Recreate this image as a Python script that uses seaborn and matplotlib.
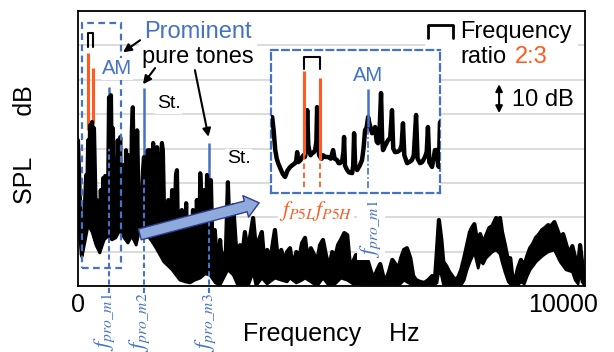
import numpy as np
import pandas as pd
import matplotlib
matplotlib.use('Agg')
import matplotlib.pyplot as plt
import matplotlib.patches as mpatches
import seaborn as sns

spec_hz = [0, 40, 80, 120, 170, 190, 210, 230, 250, 270,
           290, 310, 330, 350, 370, 390, 410, 430, 450, 470,
           500, 520, 540, 560, 580, 600, 620, 640, 660, 680,
           700, 720, 740, 760, 780, 800, 820, 850, 870, 890,
           910, 930, 950, 970, 990, 1010, 1030, 1050, 1070, 1090,
           1110, 1130, 1150, 1180, 1200, 1220, 1240, 1260, 1280, 1300,
           1320, 1340, 1360, 1380, 1400, 1420, 1440, 1460, 1480, 1510,
           1530, 1550, 1570, 1590, 1610, 1630, 1650, 1670, 1690, 1710,
           1730, 1750, 1770, 1790, 1810, 1840, 1860, 1900, 1940, 1980,
           2020, 2040, 2060, 2100, 2140, 2190, 2230, 2270, 2310, 2350,
           2370, 2410, 2450, 2500, 2520, 2560, 2600, 2640, 2660, 2700,
           2740, 2780, 2820, 2890, 2930, 2970, 3050, 3090, 3130, 3200,
           3260, 3300, 3340, 3400, 3440, 3510, 3550, 3610, 3670, 3730,
           3790, 3840, 3900, 3960, 4020, 4060, 4120, 4190, 4250, 4310,
           4370, 4430, 4500, 4560, 4620, 4680, 4740, 4800, 4870, 4930,
           4990, 5050, 5110, 5180, 5240, 5300, 5360, 5420, 5490, 5550,
           5610, 5670, 5730, 5790, 5860, 5920, 5980, 6040, 6100, 6170,
           6230, 6290, 6350, 6410, 6480, 6540, 6600, 6660, 6720, 6780,
           6850, 6910, 6970, 7050, 7140, 7220, 7300, 7360, 7400, 7440,
           7490, 7530, 7590, 7650, 7710, 7770, 7840, 7900, 7960, 8020,
           8080, 8120, 8170, 8210, 8250, 8290, 8350, 8410, 8480, 8540,
           8580, 8620, 8660, 8700, 8740, 8800, 8870, 8910, 8950, 9010,
           9070, 9130, 9200, 9260, 9320, 9380, 9440, 9510, 9570, 9630,
           9690, 9750, 9820, 9880, 9940, 10000, 10060, 10120, 10190, 10250,
           10310, 10350, 10390, 10450]
spec_db = [42.4, 25.0, 9.0, 16.3, 32.3, 25.0, 42.4, 33.7, 46.8, 39.5,
           47.7, 43.9, 45.9, 32.3, 18.6, 25.0, 13.0, 20.6, 10.5, 27.9,
           16.3, 31.4, 22.1, 32.0, 20.6, 29.4, 25.0, 54.9, 36.6, 55.5,
           30.8, 45.9, 25.0, 15.5, 33.7, 22.1, 42.4, 27.9, 43.3, 17.5,
           25.0, 16.0, 35.2, 15.0, 39.5, 25.0, 38.1, 14.0, 30.8, 19.2,
           45.3, 52.0, 33.7, 42.4, 25.0, 45.3, 30.8, 17.5, 27.9, 18.0,
           25.0, 33.7, 37.5, 25.0, 16.3, 30.8, 39.5, 25.0, 39.5, 19.2,
           30.8, 41.6, 25.0, 16.3, 32.3, 40.4, 27.9, 10.5, 25.0, 36.6,
           41.6, 39.5, 25.0, 10.5, 7.5, 16.3, 25.0, 10.5, 27.9, 13.4,
           32.3, 33.7, 16.3, 3.2, 22.1, 4.7, 24.1, 1.5, 19.2, 7.6,
           22.1, 3.2, 25.0, 10.5, 32.8, 19.2, 27.9, 10.5, 32.3, 20.6,
           30.8, 5.5, 16.3, 1.2, 13.4, 6.0, 10.5, 30.2, 13.4, 23.5,
           10.5, 7.6, 11.9, 10.5, 15.7, 9.0, 14.5, 19.8, 10.5, 13.4,
           15.7, 7.0, 10.5, 7.0, 12.8, 16.3, 7.6, 10.5, 7.0, 9.9,
           11.0, 5.2, 9.9, 8.1, 12.5, 14.0, 7.0, 11.0, 9.0, 7.0,
           11.9, 13.4, 9.0, 5.2, 9.9, 8.1, 11.9, 13.4, 15.4, 14.8,
           5.2, 7.0, 9.0, 8.1, 5.8, 8.1, 7.0, 4.1, 2.3, 4.7,
           6.4, 2.9, 1.7, 4.1, 7.6, 6.4, 4.7, 8.1, 10.5, 11.0,
           8.1, 2.9, 1.7, 1.2, 0.9, 1.7, 2.9, 2.3, 10.5, 19.2,
           13.4, 7.0, 5.8, 4.1, 2.9, 1.7, 2.6, 4.7, 8.1, 11.9,
           15.7, 16.9, 18.0, 14.5, 11.6, 15.1, 12.2, 14.5, 16.9, 17.4,
           18.6, 19.8, 19.2, 19.8, 15.7, 11.9, 7.0, 8.1, 2.9, 1.7,
           5.2, 7.6, 5.8, 8.7, 11.0, 12.2, 14.0, 15.1, 16.3, 16.9,
           17.7, 17.4, 18.6, 16.3, 14.0, 15.1, 12.2, 9.3, 11.6, 8.1,
           5.8, 11.9, 7.0, 1.7]

# lower edge of the dense spectrum (Hz, dB)
floor_hz = [0, 40, 80, 120, 210, 290, 370, 450, 540, 620,
            700, 780, 870, 950, 1030, 1110, 1200, 1280, 1360, 1440,
            1530, 1610, 1690, 1770, 1860, 1940, 2020, 2100, 2210, 2310,
            2410, 2520, 2620, 2720, 2830, 2930, 3090, 3200, 3300, 3400,
            3510, 3610, 3670, 3790, 3900, 4060, 4190, 4310, 4370, 4500,
            4620, 4680, 4800, 4930, 5050, 5180, 5300, 5420, 5550, 5670,
            5790, 5920, 6100, 6290, 6480, 6600, 6720, 6850, 6970, 7300,
            7400, 7440, 7490, 7530, 7710, 7900, 7960, 8020, 8080, 8170,
            8250, 8290, 8350, 8410, 8540, 8620, 8700, 8740, 8800, 8870,
            8950, 9070, 9130, 9200, 9260, 9320, 9440, 9570, 9690, 9820,
            9940, 10060, 10190, 10250, 10310, 10350, 10390, 10450]
floor_db = [25.0, 13.4, 8.4, 11.0, 17.7, 15.7, 11.9, 9.6, 13.4, 14.5,
            13.4, 14.0, 16.3, 14.0, 12.5, 14.5, 11.9, 16.9, 15.7, 14.5,
            12.8, 11.0, 9.0, 7.0, 5.8, 4.7, 3.2, 1.7, 1.2, 0.9,
            1.7, 2.3, 3.5, 3.2, 0.9, 0.3, 4.7, 3.2, 0.0, 0.0,
            0.0, 4.1, 0.0, 2.3, 0.6, 2.3, 1.7, 1.2, 2.3, 0.9,
            1.7, 2.3, 1.2, 0.0, 2.3, 0.0, 0.6, 2.3, 1.7, 0.6,
            0.6, 0.3, 0.0, 0.0, 0.6, 0.0, 1.7, 0.6, 0.0, 0.0,
            0.9, 4.7, 3.2, 0.6, 0.0, 0.3, 1.7, 4.7, 7.0, 9.9,
            5.2, 7.6, 6.4, 8.1, 9.9, 10.5, 9.3, 7.0, 4.1, 1.2,
            0.0, 0.3, 1.2, 0.6, 2.9, 4.7, 7.0, 8.7, 9.9, 10.5,
            7.0, 4.7, 4.1, 1.7, 0.6, 4.7, 1.2, 0.0]

# low frequency part shown enlarged in the inset (Hz, relative dB)
zoom_hz = [0, 10, 20, 30, 39, 55, 70, 85, 100, 118,
           135, 151, 158, 164, 171, 185, 197, 205, 215, 222,
           230, 237, 243, 252, 262, 272, 282, 290, 295, 302,
           308, 315, 325, 334, 350, 367, 385, 400, 410, 426,
           436, 446, 460, 468, 472, 478, 492, 505, 525, 532,
           538, 545, 558, 575, 590, 600, 610, 620, 630, 640,
           656, 666, 676, 686, 695, 705, 715, 722, 728, 745,
           761, 775, 787, 795, 807, 823, 840, 850, 859, 868,
           886, 900, 918, 930, 945, 955, 971, 985, 1004, 1015,
           1023, 1032, 1050, 1060, 1069, 1082, 1090, 1095, 1102]
zoom_db = [22.1, 18, 12.5, 10, 8.7, 7, 5.5, 4.7, 6.5, 7.6,
           8.2, 8.7, 9.5, 11.9, 9.0, 9.5, 10.5, 11, 10.5, 12,
           24.1, 14, 12.5, 11, 11.6, 11.8, 12.5, 15, 25.0, 14,
           11, 10.5, 10, 11.0, 10.5, 10.5, 10, 12.5, 10, 9.6,
           8.7, 8.7, 9.5, 12, 16.3, 8, 6.7, 6, 5.8, 8,
           17.4, 8, 6.7, 8, 9.6, 13, 18.3, 19, 22.1, 20,
           17.4, 18, 19.2, 15, 14.5, 18, 29.1, 16, 12.5, 14,
           15.4, 16, 24.1, 13, 11.9, 12, 12.5, 14, 20.3, 11,
           8.7, 9, 9.6, 11, 22.7, 10, 8.7, 9, 10.5, 12,
           19.2, 9, 7.6, 10, 12.5, 12.5, 8, 7.6, 20.6]

# tones
f_p5 = [210, 315]              # f_P5L, f_P5H (ratio 2:3)
p5_top = [67.7, 63.4]
p5_bottom = [45.3, 47.4]
f_pro = [630, 1360, 2710]      # f_pro_m1, m2, m3
pro_top = [57.8, 57.6, 41.6]
pro_solid_end = [40.0, 31.7, 22.0]
pro_labels = [r'$f_{pro\_m1}$', r'$f_{pro\_m2}$', r'$f_{pro\_m3}$']

# inset tone markers
zoom_p5_top = [35.5, 33.4]
zoom_p5_end = [11.0, 9.6]
zoom_am_top = 30.2
zoom_am_end = 19.2

grid_db = [0, 10, 20, 30, 40, 50, 60, 70, 80]

BLUE = '#4472C4'
ORANGE = '#FF5A1F'

sns.set_theme(style='white')
plt.rcParams['font.family'] = ['Liberation Sans', 'DejaVu Sans']
plt.rcParams['mathtext.fontset'] = 'stix'

fig = plt.figure(figsize=(6.14, 3.52), dpi=100)
ax = fig.add_axes([0.127, 0.1875, 0.8257, 0.78125])

ax.set_xlim(0, 10450)
ax.set_ylim(0, 80)
ax.set_yticks(grid_db)
ax.set_yticklabels([])
ax.set_xticks([0, 10000])
ax.set_xticklabels(['0', '10000'])
ax.tick_params(length=0, labelsize=18, pad=5, colors='black')
ax.set_axisbelow(True)
ax.grid(axis='y', color='#D9D9D9', lw=1.3)
for s in ax.spines.values():
    s.set_color('black')
    s.set_linewidth(1.3)

ax.set_xlabel('Frequency    Hz', fontsize=18, color='black')
ax.set_ylabel('SPL      dB', fontsize=18, color='black')
ax.xaxis.set_label_coords(0.5, -0.13)
ax.yaxis.set_label_coords(-0.08, 0.513)

# white area behind the "Frequency ratio" note
ax.add_patch(mpatches.Rectangle((7150, 66.5), 3160, 11, fc='white', ec='none', zorder=1))

# tone markers under the spectrum
for f, t, b in zip(f_p5, p5_top, p5_bottom):
    ax.plot([f, f], [b, t], color=ORANGE, lw=2.2, zorder=2, solid_capstyle='butt')
for f, t, b in zip(f_pro, pro_top, pro_solid_end):
    ax.plot([f, f], [b, t], color=BLUE, lw=1.8, zorder=2, solid_capstyle='butt')

# dense spectrum: filled between its upper and lower edge
ax.fill(spec_hz + floor_hz[::-1], spec_db + floor_db[::-1], color='black', lw=0, zorder=3)
sns.lineplot(x=spec_hz, y=spec_db, ax=ax, color='black', lw=3.0,
             estimator=None, sort=False, zorder=3)
sns.lineplot(x=floor_hz, y=floor_db, ax=ax, color='black', lw=2.0,
             estimator=None, sort=False, zorder=3)

# dashed guide lines down to the labels
for f, b, lab in zip(f_pro, pro_solid_end, pro_labels):
    ax.plot([f, f], [-2.0, b], color=BLUE, lw=1.5, ls=(0, (2.5, 1.5)),
            zorder=4, clip_on=False)
    ax.annotate(lab, xy=(f, -2.0), xytext=(-3, 0), textcoords='offset points',
                rotation=90, ha='center', va='top', color=BLUE, fontsize=16,
                annotation_clip=False)

# dashed box around the low frequency tones
ax.add_patch(mpatches.Rectangle((80, 5.2), 810, 71.3, fill=False, ec=BLUE, lw=1.6,
                                ls=(0, (3, 2)), zorder=5))

# frequency ratio bracket
ax.plot([210, 210, 315, 315], [69.5, 73.5, 73.5, 69.5], color='black', lw=1.5, zorder=5)

tb = dict(facecolor='white', edgecolor='none', pad=1)
ax.text(804, 61.6, 'AM', color=BLUE, fontsize=14.5, ha='center', va='baseline',
        bbox=tb, zorder=6)
ax.text(2474, 72.1, 'Prominent', color=BLUE, fontsize=17, ha='center', va='baseline',
        bbox=dict(facecolor='white', edgecolor='none', pad=4), zorder=6)
ax.text(2474, 64.8, 'pure tones', color='black', fontsize=17, ha='center', va='baseline',
        bbox=tb, zorder=6)
ax.text(1866, 51.7, 'St.', color='black', fontsize=14, ha='center', va='baseline',
        bbox=tb, zorder=6)
ax.text(3310, 35.8, 'St.', color='black', fontsize=14, ha='center', va='baseline',
        bbox=tb, zorder=6)

arrow_kw = dict(arrowstyle='-|>', color='black', lw=1.5, mutation_scale=12,
                shrinkA=0, shrinkB=0)
ax.annotate('', xy=(930, 68.0), xytext=(1280, 71.5), arrowprops=arrow_kw, zorder=7)
ax.annotate('', xy=(1340, 58.7), xytext=(1590, 63.4), arrowprops=arrow_kw, zorder=7)
ax.annotate('', xy=(2690, 43.4), xytext=(2410, 62.8), arrowprops=arrow_kw, zorder=7)

# legend-like notes on the right
ax.plot([7220, 7220, 7730, 7730], [72.1, 75.9, 75.9, 72.1], color='black', lw=2, zorder=6)
ax.text(7877, 72.1, 'Frequency', color='black', fontsize=17, va='baseline', zorder=6)
ax.text(7877, 64.8, 'ratio', color='black', fontsize=17, va='baseline', zorder=6)
ax.text(9000, 64.8, '2:3', color=ORANGE, fontsize=17, va='baseline', zorder=6)
ax.annotate('', xy=(8680, 50.3), xytext=(8680, 58.7),
            arrowprops=dict(arrowstyle='<|-|>', color='black', lw=1.5, mutation_scale=10,
                            shrinkA=0, shrinkB=0), zorder=6)
ax.text(8949, 52.3, '10 dB', color='black', fontsize=17, va='baseline', zorder=6)

# labels for the inset
ax.text(4908, 21.8, r'$f_{P5L}f_{P5H}$', color=ORANGE, fontsize=16, ha='center',
        va='center', bbox=tb, zorder=6)
ax.text(6040, 25.0, r'$f_{pro\_m1}$', color=BLUE, fontsize=16, rotation=90,
        ha='center', va='top', bbox=tb, zorder=6)

# big arrow pointing to the inset
ax.add_patch(mpatches.FancyArrowPatch(
    (1220, 14.8), (3790, 24.4),
    arrowstyle=mpatches.ArrowStyle.Simple(head_length=10, head_width=16, tail_width=8),
    mutation_scale=1, fc='#8FAADC', ec='#2F3D8C', lw=1, zorder=7))

# inset
ins = ax.inset_axes([0.381, 0.338, 0.333, 0.520])
ins.set_facecolor('white')
ins.set_xlim(-7, 1102)
ins.set_ylim(0, 41.6)
ins.set_xticks([])
ins.set_yticks([])
for s in ins.spines.values():
    s.set_edgecolor(BLUE)
    s.set_linewidth(1.6)
    s.set_linestyle((0, (3, 2)))

sns.lineplot(x=zoom_hz, y=zoom_db, ax=ins, color='black', lw=3.2,
             estimator=None, sort=False, zorder=3)
for f, t, e in zip(f_p5, zoom_p5_top, zoom_p5_end):
    ins.plot([f, f], [e, t], color=ORANGE, lw=2.2, zorder=4, solid_capstyle='butt')
    ins.plot([f, f], [1.7, e], color=ORANGE, lw=1.3, ls=(0, (3, 2)), zorder=4)
ins.plot([f_pro[0], f_pro[0]], [zoom_am_end, zoom_am_top], color=BLUE, lw=1.8, zorder=4,
         solid_capstyle='butt')
ins.plot([f_pro[0], f_pro[0]], [1.5, zoom_am_end], color=BLUE, lw=1.2,
         ls=(0, (4, 1.5, 1, 1.5)), zorder=4)
ins.plot([210, 210, 315, 315], [36.0, 39.5, 39.5, 36.0], color='black', lw=1.5, zorder=4)
ins.text(630, 32.6, 'AM', color=BLUE, fontsize=14.5, ha='center', va='baseline')

fig.savefig('out.png', dpi=100)
